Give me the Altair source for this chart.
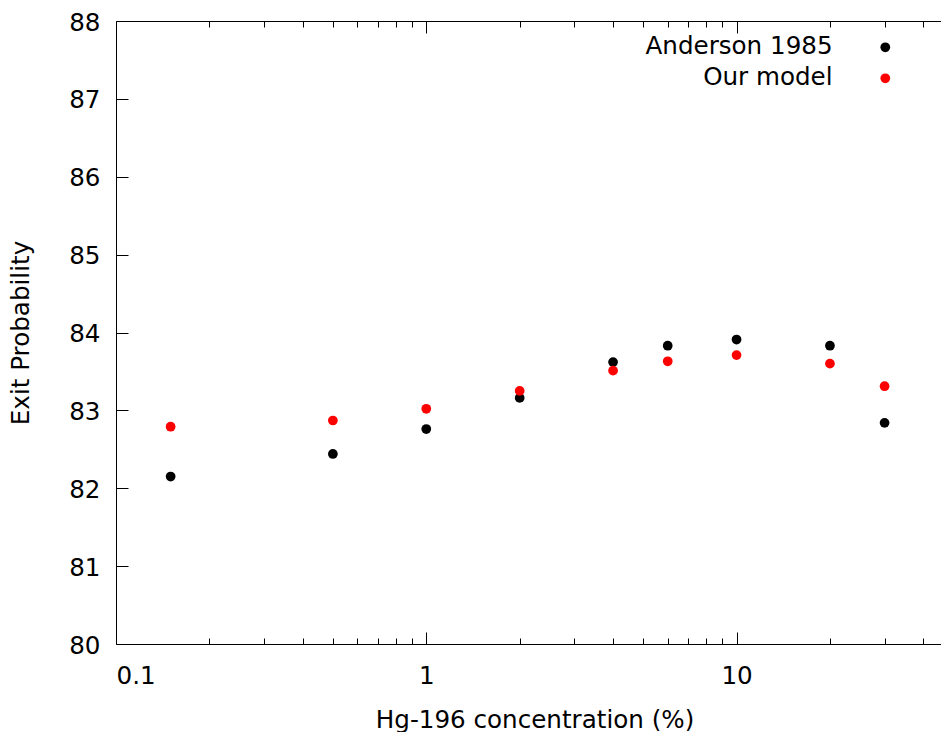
import altair as alt
import pandas as pd

# ---- data ----
conc = [0.15, 0.5, 1, 2, 4, 6, 10, 20, 30]
anderson = [82.15, 82.44, 82.76, 83.16, 83.62, 83.83, 83.91, 83.83, 82.84]
model = [82.79, 82.87, 83.02, 83.25, 83.51, 83.63, 83.71, 83.60, 83.31]
series_names = ["Anderson 1985", "Our model"]
series_colors = ["#000000", "#ff0000"]
x_major = [0.1, 1, 10]
x_minor = [0.2, 0.3, 0.4, 0.5, 0.6, 0.7, 0.8, 0.9,
           2, 3, 4, 5, 6, 7, 8, 9, 20, 30, 40]
y_ticks = [80, 81, 82, 83, 84, 85, 86, 87, 88]

rows = []
for i, c in enumerate(conc):
    rows.append({"conc": c, "p": anderson[i], "series": series_names[0], "idx": i})
for i, c in enumerate(conc):
    rows.append({"conc": c, "p": model[i], "series": series_names[1], "idx": 100 + i})
df = pd.DataFrame(rows)

W, H = 825, 623
FONT = "DejaVu Sans"
FS = 24.6

xs = alt.Scale(type="log", domain=[0.1, 45.6], nice=False)
ys = alt.Scale(domain=[80, 88], nice=False, zero=False)
cs = alt.Scale(domain=series_names, range=series_colors)


def tick_axis(orient, values, size, offset, domain=False):
    return alt.Axis(orient=orient, values=values, tickSize=size, offset=offset,
                    labels=False, title=None, grid=False, domain=domain,
                    domainColor="black", domainWidth=1,
                    ticks=True, tickColor="black", tickWidth=1)


base = alt.Chart(df)

# legend text (labels only, right-aligned)
legend_labels = alt.Legend(
    title=None, orient="none", legendX=688, legendY=14,
    labelAlign="right", labelFont=FONT, labelFontSize=FS, labelColor="black",
    labelLimit=500, symbolType="circle", symbolSize=95, symbolStrokeWidth=0,
    symbolOpacity=0, rowPadding=6, padding=0)
# legend symbols (placed right of the texts)
legend_symbols = alt.Legend(
    title=None, orient="none", legendX=757, legendY=14,
    labelExpr="' '", labelFont=FONT, labelFontSize=FS, labelColor="black",
    symbolType="circle", symbolSize=95, symbolStrokeWidth=0,
    symbolOpacity=1, rowPadding=6, padding=0)

main = base.mark_circle(size=95, opacity=1).encode(
    x=alt.X("conc:Q", scale=xs, axis=alt.Axis(
        orient="bottom", values=x_major, format="~g", ticks=False, tickSize=0,
        domain=True, domainColor="black", domainWidth=1, grid=False,
        labelFont=FONT, labelFontSize=FS, labelColor="black", labelPadding=20,
        title="Hg-196 concentration (%)", titleFont=FONT, titleFontSize=FS,
        titleFontWeight="normal", titleColor="black",
        titleX=W / 2 + 6, titleY=64, titleBaseline="top")),
    y=alt.Y("p:Q", scale=ys, axis=alt.Axis(
        orient="left", values=y_ticks, ticks=False, tickSize=0,
        domain=True, domainColor="black", domainWidth=1, grid=False,
        labelFont=FONT, labelFontSize=FS, labelColor="black", labelPadding=16,
        labelOffset=2,
        title="Exit Probability", titleFont=FONT, titleFontSize=FS,
        titleFontWeight="normal", titleColor="black",
        titleX=-83, titleY=H / 2, titleBaseline="bottom")),
    color=alt.Color("series:N", scale=cs, legend=legend_labels),
    order=alt.Order("idx:Q"),
)

# inward ticks at the bottom (top-oriented axis shifted down) + right-pointing y ticks
l1 = base.mark_circle(opacity=0).encode(
    x=alt.X("conc:Q", scale=xs, axis=tick_axis("top", x_major, 12, -H)),
    y=alt.Y("p:Q", scale=ys, axis=tick_axis("right", y_ticks[1:-1], 12, -W)),
    color=alt.Color("series:N", scale=cs, legend=legend_symbols),
)
l2 = base.mark_circle(opacity=0).encode(
    x=alt.X("conc:Q", scale=xs, axis=tick_axis("top", x_minor, 6, -H)),
    y=alt.Y("p:Q", scale=ys, axis=None),
)
# top border with downward ticks (bottom-oriented axis shifted up)
l3 = base.mark_circle(opacity=0).encode(
    x=alt.X("conc:Q", scale=xs, axis=tick_axis("bottom", x_major, 12, -H, domain=True)),
    y=alt.Y("p:Q", scale=ys, axis=None),
)
l4 = base.mark_circle(opacity=0).encode(
    x=alt.X("conc:Q", scale=xs, axis=tick_axis("bottom", x_minor, 6, -H)),
    y=alt.Y("p:Q", scale=ys, axis=None),
)

chart = alt.layer(l1, l2, l3, l4, main).resolve_axis(
    x="independent", y="independent"
).resolve_legend(color="independent").properties(
    width=W, height=H,
    autosize=alt.AutoSizeParams(type="none"),
    padding={"left": 116, "top": 21, "right": 0, "bottom": 88},
    background="white",
).configure_view(stroke=None)

chart.save("out.html", embed_options={"renderer": "svg", "actions": False})
